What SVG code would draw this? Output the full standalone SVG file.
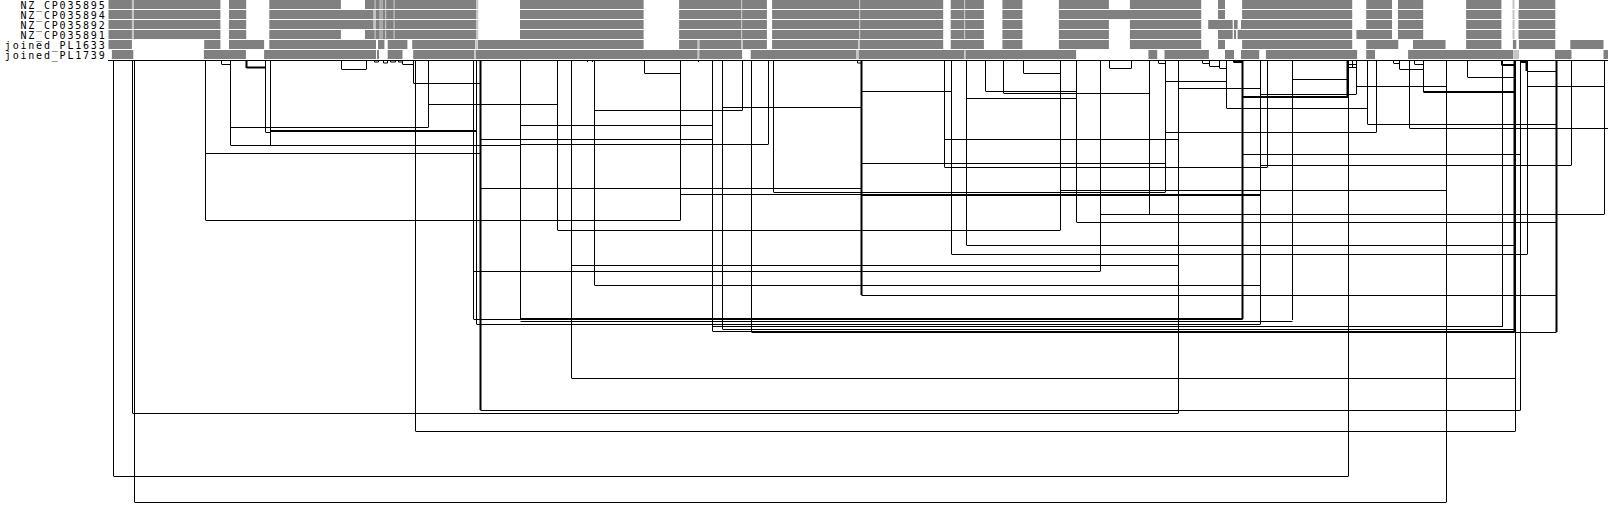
<svg xmlns="http://www.w3.org/2000/svg" width="1608" height="507" viewBox="0 0 1608 507">
<style>
text{font-family:"DejaVu Sans Mono","Liberation Mono",monospace;font-size:10px;letter-spacing:1.8px;fill:#000;text-anchor:end}
.bar{fill:#808080}
.sep{fill:#c4c4c4}
.c{fill:none;stroke:#000;stroke-width:1}
.t{fill:none;stroke:#000;stroke-width:2}
</style>
<rect width="1608" height="507" fill="#fff"/>
<g id="row1">
<text x="106.5" y="8.5">NZ_CP035895</text>
<g class="bar"><rect x="108.5" y="0" width="23.4" height="9"/><rect x="134" y="0" width="86.4" height="9"/><rect x="229" y="0" width="17.2" height="9"/><rect x="269.3" y="0" width="71.6" height="9"/><rect x="365" y="0" width="111.2" height="9"/><rect x="520" y="0" width="123.6" height="9"/><rect x="679.1" y="0" width="87.8" height="9"/><rect x="772.1" y="0" width="171.1" height="9"/><rect x="950.7" y="0" width="33.2" height="9"/><rect x="1002.4" y="0" width="20" height="9"/><rect x="1058.9" y="0" width="50" height="9"/><rect x="1129.9" y="0" width="71.3" height="9"/><rect x="1218" y="0" width="7" height="9"/><rect x="1242.1" y="0" width="110.1" height="9"/><rect x="1366.2" y="0" width="25.8" height="9"/><rect x="1398" y="0" width="25.2" height="9"/><rect x="1466.1" y="0" width="35.3" height="9"/><rect x="1518.9" y="0" width="36.4" height="9"/></g>
<g class="sep"><rect x="132" y="0" width="2" height="9"/><rect x="374.5" y="0" width="1.2" height="9"/><rect x="379.5" y="0" width="1.2" height="9"/><rect x="381.5" y="0" width="1.2" height="9"/><rect x="385" y="0" width="1.2" height="9"/><rect x="393.5" y="0" width="1.2" height="9"/><rect x="476.2" y="0" width="2" height="9"/><rect x="741" y="0" width="1.2" height="9"/><rect x="859" y="0" width="1.2" height="9"/><rect x="964" y="0" width="1.2" height="9"/><rect x="1512.5" y="0" width="2" height="9"/></g>
</g>
<g id="row2">
<text x="106.5" y="18.5">NZ_CP035894</text>
<g class="bar"><rect x="108.5" y="10" width="23.4" height="9"/><rect x="134" y="10" width="86.4" height="9"/><rect x="229" y="10" width="17.2" height="9"/><rect x="269.3" y="10" width="104.3" height="9"/><rect x="375.5" y="10" width="100.7" height="9"/><rect x="520" y="10" width="123.6" height="9"/><rect x="679.1" y="10" width="87.8" height="9"/><rect x="772.1" y="10" width="171.1" height="9"/><rect x="950.7" y="10" width="33.2" height="9"/><rect x="1002.4" y="10" width="20" height="9"/><rect x="1058.9" y="10" width="142.3" height="9"/><rect x="1218" y="10" width="7" height="9"/><rect x="1242.1" y="10" width="110.1" height="9"/><rect x="1366.2" y="10" width="25.8" height="9"/><rect x="1398" y="10" width="25.2" height="9"/><rect x="1466.1" y="10" width="35.3" height="9"/><rect x="1518.5" y="10" width="36.8" height="9"/></g>
<g class="sep"><rect x="132" y="10" width="2" height="9"/><rect x="373.6" y="10" width="1.9" height="9"/><rect x="379.5" y="10" width="1.2" height="9"/><rect x="381.5" y="10" width="1.2" height="9"/><rect x="385" y="10" width="1.2" height="9"/><rect x="393.5" y="10" width="1.2" height="9"/><rect x="476.2" y="10" width="2" height="9"/><rect x="741" y="10" width="1.2" height="9"/><rect x="859" y="10" width="1.2" height="9"/><rect x="964" y="10" width="1.2" height="9"/><rect x="1512.5" y="10" width="2" height="9"/></g>
</g>
<g id="row3">
<text x="106.5" y="28.5">NZ_CP035892</text>
<g class="bar"><rect x="108.5" y="20" width="23.4" height="9"/><rect x="134" y="20" width="86.4" height="9"/><rect x="229" y="20" width="17.2" height="9"/><rect x="269.3" y="20" width="104.3" height="9"/><rect x="375.5" y="20" width="100.7" height="9"/><rect x="520" y="20" width="123.6" height="9"/><rect x="679.1" y="20" width="87.8" height="9"/><rect x="772.1" y="20" width="171.1" height="9"/><rect x="950.7" y="20" width="33.2" height="9"/><rect x="1002.4" y="20" width="20" height="9"/><rect x="1058.9" y="20" width="50" height="9"/><rect x="1129.9" y="20" width="71.3" height="9"/><rect x="1208.2" y="20" width="24.5" height="9"/><rect x="1234" y="20" width="3.6" height="9"/><rect x="1241" y="20" width="111.2" height="9"/><rect x="1366.2" y="20" width="25.8" height="9"/><rect x="1398" y="20" width="25.2" height="9"/><rect x="1466.1" y="20" width="35.3" height="9"/><rect x="1518.5" y="20" width="36.8" height="9"/></g>
<g class="sep"><rect x="132" y="20" width="2" height="9"/><rect x="373.6" y="20" width="1.9" height="9"/><rect x="379.5" y="20" width="1.2" height="9"/><rect x="381.5" y="20" width="1.2" height="9"/><rect x="385" y="20" width="1.2" height="9"/><rect x="393.5" y="20" width="1.2" height="9"/><rect x="476.2" y="20" width="2" height="9"/><rect x="741" y="20" width="1.2" height="9"/><rect x="859" y="20" width="1.2" height="9"/><rect x="964" y="20" width="1.2" height="9"/><rect x="1512.5" y="20" width="2" height="9"/></g>
</g>
<g id="row4">
<text x="106.5" y="38.5">NZ_CP035891</text>
<g class="bar"><rect x="108.5" y="30" width="23.4" height="9"/><rect x="134" y="30" width="86.4" height="9"/><rect x="229" y="30" width="17.2" height="9"/><rect x="269.3" y="30" width="71.6" height="9"/><rect x="365" y="30" width="111.2" height="9"/><rect x="520" y="30" width="123.6" height="9"/><rect x="679.1" y="30" width="87.8" height="9"/><rect x="772.1" y="30" width="171.1" height="9"/><rect x="950.7" y="30" width="33.2" height="9"/><rect x="1002.4" y="30" width="20" height="9"/><rect x="1058.9" y="30" width="50" height="9"/><rect x="1129.9" y="30" width="71.3" height="9"/><rect x="1218" y="30" width="14.7" height="9"/><rect x="1234" y="30" width="2" height="9"/><rect x="1237.6" y="30" width="114.6" height="9"/><rect x="1356.4" y="30" width="35.6" height="9"/><rect x="1398" y="30" width="25.2" height="9"/><rect x="1466.1" y="30" width="35.3" height="9"/><rect x="1518.5" y="30" width="36.8" height="9"/></g>
<g class="sep"><rect x="132" y="30" width="2" height="9"/><rect x="374.5" y="30" width="1.2" height="9"/><rect x="379.5" y="30" width="1.2" height="9"/><rect x="381.5" y="30" width="1.2" height="9"/><rect x="385" y="30" width="1.2" height="9"/><rect x="393.5" y="30" width="1.2" height="9"/><rect x="476.2" y="30" width="2" height="9"/><rect x="741" y="30" width="1.2" height="9"/><rect x="859" y="30" width="1.2" height="9"/><rect x="964" y="30" width="1.2" height="9"/><rect x="1512.5" y="30" width="2" height="9"/></g>
</g>
<g id="row5">
<text x="106.5" y="48.5">joined_PL1633</text>
<g class="bar"><rect x="108.5" y="40" width="23.4" height="9"/><rect x="204.2" y="40" width="16.2" height="9"/><rect x="229" y="40" width="35.1" height="9"/><rect x="269.3" y="40" width="106.7" height="9"/><rect x="378" y="40" width="6.4" height="9"/><rect x="387.7" y="40" width="19.7" height="9"/><rect x="412.2" y="40" width="63" height="9"/><rect x="478" y="40" width="165.6" height="9"/><rect x="679.1" y="40" width="18.6" height="9"/><rect x="699.3" y="40" width="42.1" height="9"/><rect x="742.6" y="40" width="24.3" height="9"/><rect x="772.1" y="40" width="86.1" height="9"/><rect x="859.5" y="40" width="83.7" height="9"/><rect x="950.7" y="40" width="33.2" height="9"/><rect x="1002.4" y="40" width="20" height="9"/><rect x="1058.9" y="40" width="50" height="9"/><rect x="1129.9" y="40" width="71.3" height="9"/><rect x="1218" y="40" width="7" height="9"/><rect x="1242.1" y="40" width="110.1" height="9"/><rect x="1366.2" y="40" width="32.1" height="9"/><rect x="1413" y="40" width="32.5" height="9"/><rect x="1466.1" y="40" width="35.3" height="9"/><rect x="1512.9" y="40" width="3.4" height="9"/><rect x="1518.9" y="40" width="36.4" height="9"/><rect x="1570.3" y="40" width="33.2" height="9"/></g>
<g class="sep"><rect x="475.4" y="40" width="2.4" height="9"/><rect x="697.7" y="40" width="1.6" height="9"/><rect x="741.4" y="40" width="1.2" height="9"/><rect x="858.2" y="40" width="1.3" height="9"/></g>
</g>
<g id="row6">
<text x="106.5" y="58.5">joined_PL1739</text>
<g class="bar"><rect x="111.9" y="50" width="21.4" height="9"/><rect x="203.9" y="50" width="42" height="9"/><rect x="264.1" y="50" width="111.9" height="9"/><rect x="377" y="50" width="2" height="9"/><rect x="387.7" y="50" width="14.8" height="9"/><rect x="413.2" y="50" width="61" height="9"/><rect x="475.6" y="50" width="222.1" height="9"/><rect x="699.2" y="50" width="42.9" height="9"/><rect x="750.7" y="50" width="105.7" height="9"/><rect x="859" y="50" width="105.2" height="9"/><rect x="965.4" y="50" width="110.7" height="9"/><rect x="1148.4" y="50" width="8.8" height="9"/><rect x="1164.5" y="50" width="44.4" height="9"/><rect x="1225" y="50" width="9" height="9"/><rect x="1241" y="50" width="18.2" height="9"/><rect x="1265.9" y="50" width="91.2" height="9"/><rect x="1366.2" y="50" width="8.8" height="9"/><rect x="1408.1" y="50" width="105.2" height="9"/><rect x="1554.9" y="50" width="16.6" height="9"/><rect x="1603.5" y="50" width="4.5" height="9"/></g>
<g class="sep"><rect x="474.2" y="50" width="1.4" height="9"/><rect x="697.7" y="50" width="1.5" height="9"/><rect x="856.4" y="50" width="2.6" height="9"/><rect x="964.2" y="50" width="1.2" height="9"/><rect x="1513.5" y="50" width="5.5" height="9"/></g>
</g>
<g id="connectors">
<path class="c" d="M108 60.5H1608"/>
<path class="c" d="M113.5 60V476M132.5 60V413M134.5 60V502M205.5 60V220M221.5 60V64M230.5 60V145M265.5 60V132M270.5 60V145M341.5 60V69M366.5 60V69M402.5 60V64M413.5 60V83M415.5 60V431M428.5 60V127M473.5 60V319M476.5 60V324M520.5 60V319M557.5 60V230M571.5 60V378M594.5 60V285M644.5 60V73M680.5 60V220M712.5 60V331M722.5 60V329M742.5 60V110M751.5 60V332M768.5 60V144M773.5 60V192M857.5 60V63M944.5 60V167M951.5 60V254M966.5 60V245M985.5 60V91M1003.5 60V93M1023.5 60V73M1060.5 60V230M1076.5 60V222M1100.5 60V271M1109.5 60V68M1131.5 60V68M1149.5 60V214M1158.5 60V63M1165.5 60V192M1178.5 60V413M1202.5 60V63M1209.5 60V66M1219.5 60V68M1226.5 60V108M1233.5 60V62M1260.5 60V324M1267.5 60V167M1292.5 60V320M1348.5 60V476M1352.5 60V67M1356.5 60V94M1367.5 60V124M1376.5 60V132M1393.5 60V63M1399.5 60V69M1409.5 60V128M1414.5 60V64M1423.5 60V92M1446.5 60V502M1467.5 60V77M1501.5 60V65M1502.5 60V327M1515.5 60V431M1520.5 60V410M1527.5 60V254M1571.5 60V165M1604.5 60V214"/>
<path class="c" d="M374.5 60V62M378.5 60V62M383.5 60V63M387.5 60V63M390.5 60V62M395.5 60V62M398.5 60V62M587.5 60V62M592.5 60V62M698.5 60V62"/>
<path class="t" d="M246.5 60V68M480.5 60V410M861.5 60V295M1242.5 60V319M1347.5 60V97M1514.5 60V332M1526.5 60V71M1556.5 60V332"/>
<path class="c" d="M221.5 64.5H230.5M265.5 132.5H270.5M341.5 69.5H366.5M402.5 64.5H413.5M413.5 83.5H480.5M230.5 127.5H428.5M205.5 153.5H480.5M428.5 104.5H557.5M230.5 145.5H520.5M480.5 139.5H712.5M480.5 188.5H861.5M205.5 220.5H680.5M557.5 230.5H1060.5M571.5 265.5H1178.5M473.5 271.5H1100.5M594.5 285.5H1260.5M861.5 295.5H1556.5M473.5 319.5H1242.5M520.5 321.5H1292.5M476.5 324.5H1260.5M712.5 326.5H1502.5M722.5 329.5H1514.5M712.5 331.5H751.5M1514.5 332.5H1556.5M571.5 378.5H1515.5M480.5 410.5H1520.5M132.5 413.5H1178.5M415.5 431.5H1515.5M113.5 476.5H1348.5M134.5 502.5H1446.5"/>
<path class="c" d="M374.5 62H378.5M383.5 63H387.5M390.5 62H395.5M398.5 62H402.5M644.5 73.5H680.5M1023.5 73.5H1060.5M857.5 63H861.5M861.5 91.5H951.5M985.5 91.5H1076.5M1003.5 93.5H1149.5M966.5 98.5H1076.5M722.5 107.5H861.5M594.5 110.5H742.5M520.5 125.5H712.5M944.5 139.5H1178.5M520.5 144.5H768.5M861.5 163.5H1165.5M944.5 167.5H1267.5M1060.5 190.5H1446.5M773.5 192.5H1165.5M680.5 194.5H1260.5M861.5 195.5H1260.5"/>
<path class="c" d="M1109.5 68.5H1131.5M1158.5 63.5H1165.5M1165.5 81.5H1226.5M1178.5 88.5H1260.5M1202.5 63.5H1209.5M1209.5 66.5H1219.5M1219.5 68.5H1226.5M1260.5 94.5H1356.5M1292.5 79.5H1348.5M1348.5 64.5H1356.5M1348.5 67.5H1356.5M1356.5 86.5H1446.5M1226.5 108.5H1367.5M1367.5 124.5H1556.5M1409.5 128.5H1608M1165.5 132.5H1376.5M1393.5 63.5H1399.5M1399.5 69.5H1423.5M1414.5 64.5H1423.5M1467.5 77.5H1514.5M1527.5 71.5H1556.5M1527.5 86.5H1604.5M1242.5 154.5H1520.5M1260.5 165.5H1571.5M1100.5 214.5H1604.5M1076.5 222.5H1556.5M966.5 245.5H1514.5M951.5 254.5H1527.5"/>
<path class="t" d="M246.5 67.5H265.5M270.5 131H476.5M520.5 319H1242.5M751.5 332H1514.5M1233.5 62H1242.5M1242.5 97H1348.5M1423.5 92H1515.5M1501.5 65H1514.5M1520.5 62H1527.5"/>
</g>
</svg>
